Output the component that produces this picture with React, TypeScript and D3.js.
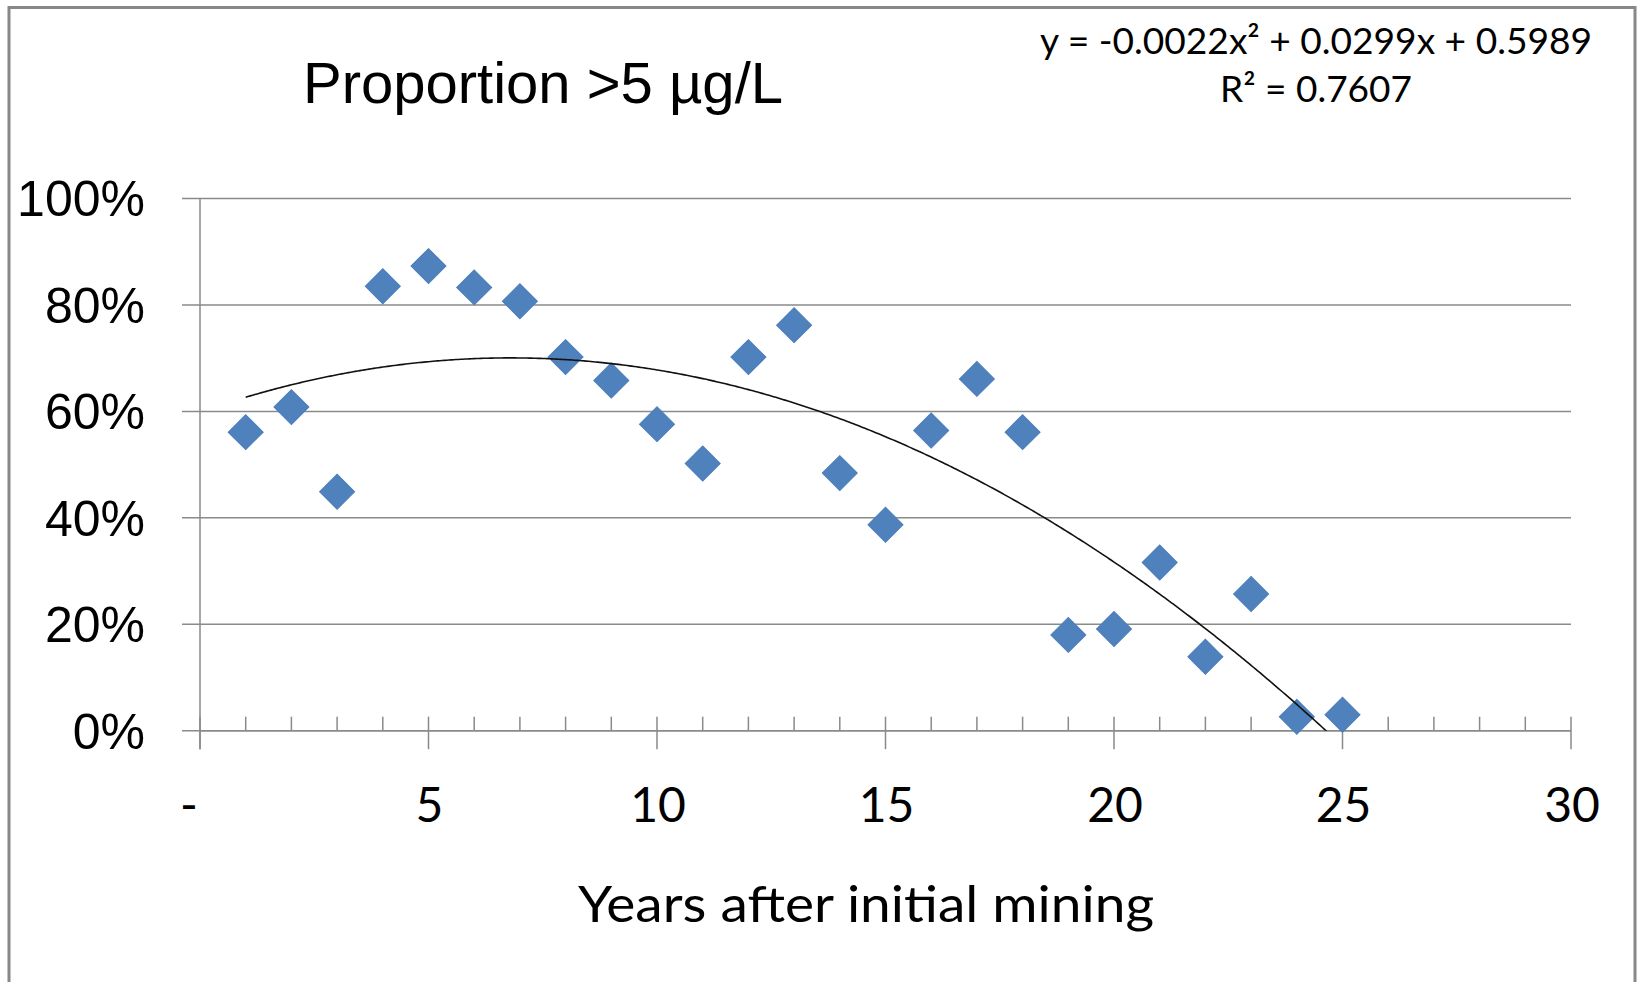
import React from "react";
import * as d3 from "d3";

// ---- data ----
const years = [1, 2, 3, 4, 5, 6, 7, 8, 9, 10, 11, 12, 13, 14, 15, 16, 17, 18, 19, 20, 21, 22, 23, 24, 25];
const proportion = [
  0.561, 0.608, 0.449, 0.835, 0.873, 0.833, 0.807, 0.702, 0.658, 0.576, 0.502, 0.702, 0.762,
  0.484, 0.387, 0.564, 0.661, 0.561, 0.18, 0.191, 0.316, 0.139, 0.257, 0.026, 0.03,
];
// trendline polynomial coefficients (a2, a1, a0) from the equation label
const trendCoef = [-0.0022, 0.0299, 0.5989];
const xTicks = [0, 5, 10, 15, 20, 25, 30];
const xTickLabels = ["-", "5", "10", "15", "20", "25", "30"];
const yTicks = [0, 0.2, 0.4, 0.6, 0.8, 1.0];
const titleText = "Proportion >5 µg/L";
const xAxisTitle = "Years after initial mining";
const eqLine1 = "y = -0.0022x² + 0.0299x + 0.5989";
const eqLine2 = "R² = 0.7607";

const W = 1638;
const H = 982;

export default function App() {
  const x = d3.scaleLinear().domain([0, 30]).range([200, 1571]);
  const y = d3.scaleLinear().domain([0, 1]).range([730.7, 198.5]);

  const minorTicks = d3.range(1, 30).filter((v) => v % 5 !== 0);
  const grid = "#8a8a8a";
  const sansA = "'Liberation Sans', Arial, sans-serif";
  const sansC = "Lato, 'Open Sans', sans-serif";

  const trendX = d3.range(1, 25.0001, 0.05);
  const trendFn = (t: number) => trendCoef[0] * t * t + trendCoef[1] * t + trendCoef[2];
  const trendPath = d3
    .line<number>()
    .x((t) => x(t))
    .y((t) => y(trendFn(t)))(trendX) as string;

  const diamond = d3.symbol().type(d3.symbolSquare).size(612)() as string;

  return (
    <svg
      width={W}
      height={H}
      style={{ position: "absolute", left: 0, top: 0, background: "#fff" }}
      xmlns="http://www.w3.org/2000/svg"
    >
      <defs>
        <clipPath id="plotClip">
          <rect x={x(0)} y={y(1)} width={x(30) - x(0)} height={y(0) - y(1)} />
        </clipPath>
      </defs>
      <rect x={0} y={0} width={W} height={H} fill="#fff" />
      {/* chart border */}
      <rect x={9} y={7.5} width={1626} height={1100} fill="none" stroke="#888" strokeWidth={3} />

      {/* title */}
      <text x={303} y={102.7} fontFamily={sansA} fontSize={58} fill="#000">
        {titleText}
      </text>

      {/* gridlines and y ticks */}
      {yTicks.map((v) => (
        <g key={"g" + v}>
          <line x1={182} x2={x(30)} y1={y(v)} y2={y(v)} stroke={grid} strokeWidth={1.5} />
          <text
            x={145}
            y={y(v) + 17.8}
            textAnchor="end"
            fontFamily={sansA}
            fontSize={50}
            fill="#000"
          >
            {d3.format(".0%")(v)}
          </text>
        </g>
      ))}

      {/* y axis line */}
      <line x1={x(0)} x2={x(0)} y1={y(1)} y2={y(0) + 18.5} stroke={grid} strokeWidth={1.5} />
      {/* x axis line */}
      <line x1={x(0)} x2={x(30)} y1={y(0)} y2={y(0)} stroke={grid} strokeWidth={1.5} />
      {/* x major ticks */}
      {xTicks.map((v) => (
        <line key={"mt" + v} x1={x(v)} x2={x(v)} y1={y(0) - 14} y2={y(0) + 18.5} stroke={grid} strokeWidth={1.5} />
      ))}
      {minorTicks.map((v) => (
        <line key={"mn" + v} x1={x(v)} x2={x(v)} y1={y(0) - 14} y2={y(0)} stroke={grid} strokeWidth={1.5} />
      ))}
      {/* x tick labels */}
      {xTicks.map((v, i) => (
        <text
          key={"xl" + v}
          x={v === 0 ? x(v) - 11 : x(v) + 1}
          y={822.3}
          textAnchor="middle"
          fontFamily={sansC}
          fontSize={48}
          fill="#000"
        >
          {xTickLabels[i]}
        </text>
      ))}

      {/* x axis title */}
      <text
        x={866}
        y={921.7}
        textAnchor="middle"
        fontFamily={sansC}
        fontSize={50}
        textLength={576}
        lengthAdjust="spacingAndGlyphs"
        fill="#000"
      >
        {xAxisTitle}
      </text>

      {/* data markers */}
      {years.map((yr, i) => (
        <path
          key={"p" + yr}
          d={diamond}
          transform={`translate(${x(yr)},${y(proportion[i])}) rotate(45)`}
          fill="#4F81BD"
          stroke="#4A7EBB"
          strokeWidth={1}
        />
      ))}

      {/* trendline */}
      <path d={trendPath} fill="none" stroke="#111" strokeWidth={1.6} clipPath="url(#plotClip)" />

      {/* equation */}
      <text
        x={1316}
        y={53.5}
        textAnchor="middle"
        fontFamily={sansC}
        fontSize={37}
        textLength={552}
        lengthAdjust="spacingAndGlyphs"
        fill="#000"
      >
        {eqLine1}
      </text>
      <text
        x={1316}
        y={101.7}
        textAnchor="middle"
        fontFamily={sansC}
        fontSize={37}
        textLength={192}
        lengthAdjust="spacingAndGlyphs"
        fill="#000"
      >
        {eqLine2}
      </text>
    </svg>
  );
}
